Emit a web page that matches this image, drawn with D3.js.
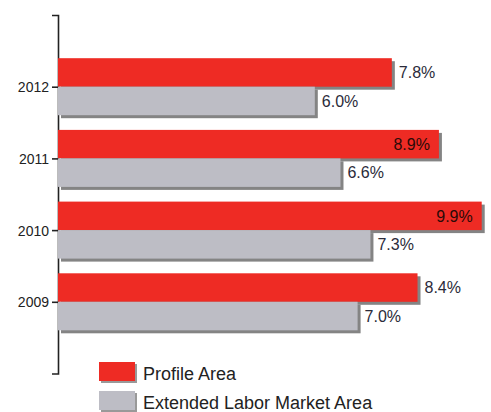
<!DOCTYPE html>
<html>
<head>
<meta charset="utf-8">
<script src="https://cdn.jsdelivr.net/npm/d3@7"></script>
<style>
  html, body { margin: 0; padding: 0; background: #fff; }
  svg { display: block; }
  text { font-family: "Liberation Sans", Arial, sans-serif; }
</style>
</head>
<body>
<svg id="chart" width="491" height="412"></svg>
<script>
const years = ["2012", "2011", "2010", "2009"];
const profileArea = [7.8, 8.9, 9.9, 8.4];
const extendedArea = [6.0, 6.6, 7.3, 7.0];
const seriesNames = ["Profile Area", "Extended Labor Market Area"];
const seriesColors = ["#ee2b24", "#bdbdc5"];
const insideLabelMin = 8.5;

const svg = d3.select("#chart");
const x = d3.scaleLinear().domain([0, 10]).range([58, 486]);
const y = d3.scalePoint().domain(years).range([15, 373.5]).padding(1);
const barH = 28.5;

// axis
const axis = d3.axisLeft(y).tickSize(6).tickSizeOuter(6).tickFormat(d => d);
const gAxis = svg.append("g").attr("transform", `translate(${x(0)},0)`).call(axis);
gAxis.select(".domain").attr("stroke", "#222").attr("stroke-width", 1.6);
gAxis.selectAll(".tick line").attr("stroke", "#222").attr("stroke-width", 1.6);
gAxis.selectAll(".tick text")
  .attr("font-size", 14).attr("fill", "#222")
  .attr("font-family", "'Liberation Sans', Arial, sans-serif")
  .attr("x", -9).attr("dy", "0.36em");

const rows = years.map((yr, i) => ({ yr, vals: [profileArea[i], extendedArea[i]] }));
const shadow = svg.append("g");
const bars = svg.append("g");
const labels = svg.append("g");

rows.forEach(r => {
  r.vals.forEach((v, s) => {
    const top = y(r.yr) - barH + s * barH;
    shadow.append("rect")
      .attr("x", x(0) + 3).attr("y", top + 3)
      .attr("width", x(v) - x(0)).attr("height", barH)
      .attr("fill", "#6e6e6e").attr("opacity", 0.85);
    bars.append("rect")
      .attr("x", x(0)).attr("y", top)
      .attr("width", x(v) - x(0)).attr("height", barH)
      .attr("fill", seriesColors[s]);
    const inside = v >= insideLabelMin;
    labels.append("text")
      .attr("x", inside ? x(v) - 9 : x(v) + 7)
      .attr("y", top + barH / 2)
      .attr("dy", "0.36em")
      .attr("text-anchor", inside ? "end" : "start")
      .attr("font-size", 16)
      .attr("fill", inside ? "#2a0a08" : "#2b2b3a")
      .text(v.toFixed(1) + "%");
  });
});

// legend
const leg = svg.append("g");
seriesNames.forEach((name, i) => {
  const ly = 362 + i * 29;
  leg.append("rect").attr("x", 101).attr("y", ly + 2).attr("width", 36).attr("height", 19)
    .attr("fill", "#6e6e6e").attr("opacity", 0.7);
  leg.append("rect").attr("x", 99).attr("y", ly).attr("width", 36).attr("height", 19)
    .attr("fill", seriesColors[i]);
  leg.append("text").attr("x", 143).attr("y", ly + 18)
    .attr("font-size", 18).attr("fill", "#222")
    .text(name);
});
</script>
</body>
</html>
